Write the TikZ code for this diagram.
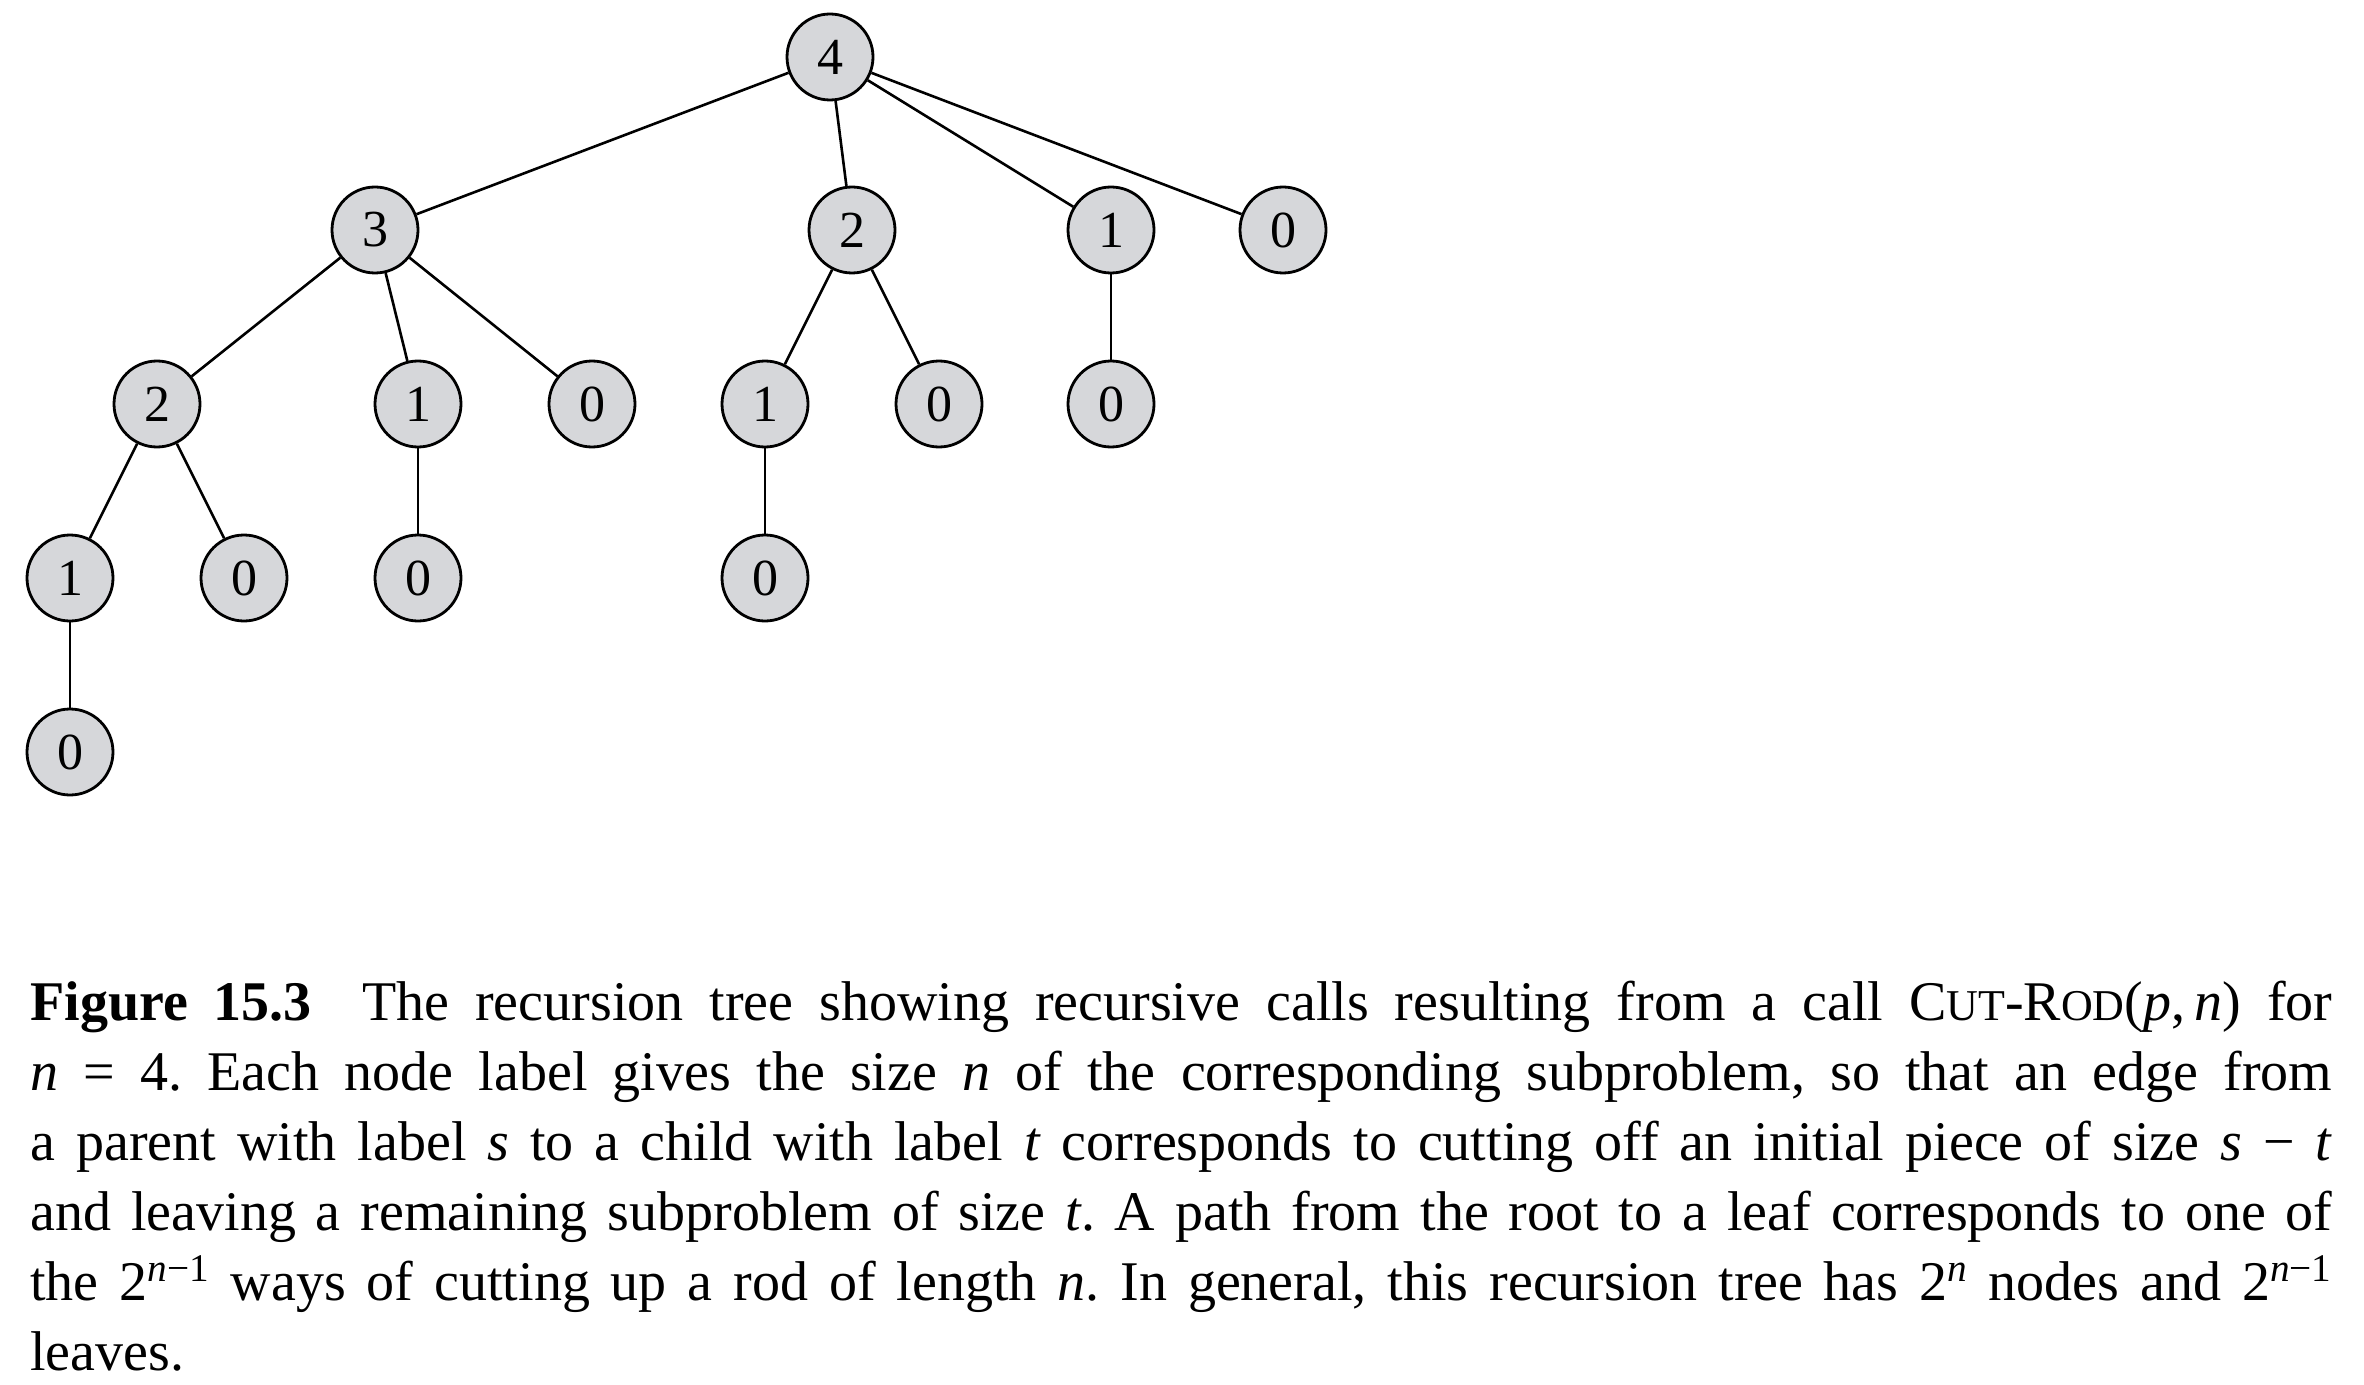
\documentclass[tikz,border=0pt]{standalone}
\usepackage{fontspec}
\setmainfont{Liberation Serif}
\definecolor{nodegray}{RGB}{214,215,218}
\begin{document}
\begin{tikzpicture}[x=0.5pt,y=-0.5pt,
  tn/.style={circle,draw=black,fill=nodegray,line width=1.4pt,minimum size=43pt,inner sep=0pt,font=\fontsize{26}{26}\selectfont},
  edge/.style={line width=1.3pt}]
\useasboundingbox (0,0) rectangle (2364,1385);
% level 0
\node[tn] (r) at (830,57) {4};
% level 1
\node[tn] (a) at (375,230) {3};
\node[tn] (b) at (852,230) {2};
\node[tn] (c) at (1111,230) {1};
\node[tn] (d) at (1283,230) {0};
% level 2
\node[tn] (aa) at (157,404) {2};
\node[tn] (ab) at (418,404) {1};
\node[tn] (ac) at (592,404) {0};
\node[tn] (ba) at (765,404) {1};
\node[tn] (bb) at (939,404) {0};
\node[tn] (ca) at (1111,404) {0};
% level 3
\node[tn] (aaa) at (70,578) {1};
\node[tn] (aab) at (244,578) {0};
\node[tn] (aba) at (418,578) {0};
\node[tn] (baa) at (765,578) {0};
% level 4
\node[tn] (aaaa) at (70,752) {0};
% edges
\draw[edge] (r) -- (a);
\draw[edge] (r) -- (b);
\draw[edge] (r) -- (c);
\draw[edge] (r) -- (d);
\draw[edge] (a) -- (aa);
\draw[edge] (a) -- (ab);
\draw[edge] (a) -- (ac);
\draw[edge] (b) -- (ba);
\draw[edge] (b) -- (bb);
\draw[edge] (c) -- (ca);
\draw[edge] (aa) -- (aaa);
\draw[edge] (aa) -- (aab);
\draw[edge] (ab) -- (aba);
\draw[edge] (ba) -- (baa);
\draw[edge] (aaa) -- (aaaa);
% caption
\node[anchor=base west,inner sep=0pt] (cap) at (30,1020) {\parbox[t]{1151pt}{\fontsize{28}{35}\selectfont\frenchspacing
\textbf{Figure 15.3}\hspace{0.9em}The recursion tree showing recursive calls resulting from a call C{\fontsize{22}{35}\selectfont UT}-R{\fontsize{22}{35}\selectfont OD}(\textit{p},\,\textit{n}) for\linebreak
\textit{n} = 4. Each node label gives the size \textit{n} of the corresponding subproblem, so that an edge from\linebreak
a parent with label \textit{s} to a child with label \textit{t} corresponds to cutting off an initial piece of size \textit{s} − \textit{t}\linebreak
and leaving a remaining subproblem of size \textit{t}. A path from the root to a leaf corresponds to one of\linebreak
the 2\textsuperscript{\textit{n}−1} ways of cutting up a rod of length \textit{n}. In general, this recursion tree has 2\textsuperscript{\textit{n}} nodes and 2\textsuperscript{\textit{n}−1}\linebreak
leaves.}};
\end{tikzpicture}
\end{document}
